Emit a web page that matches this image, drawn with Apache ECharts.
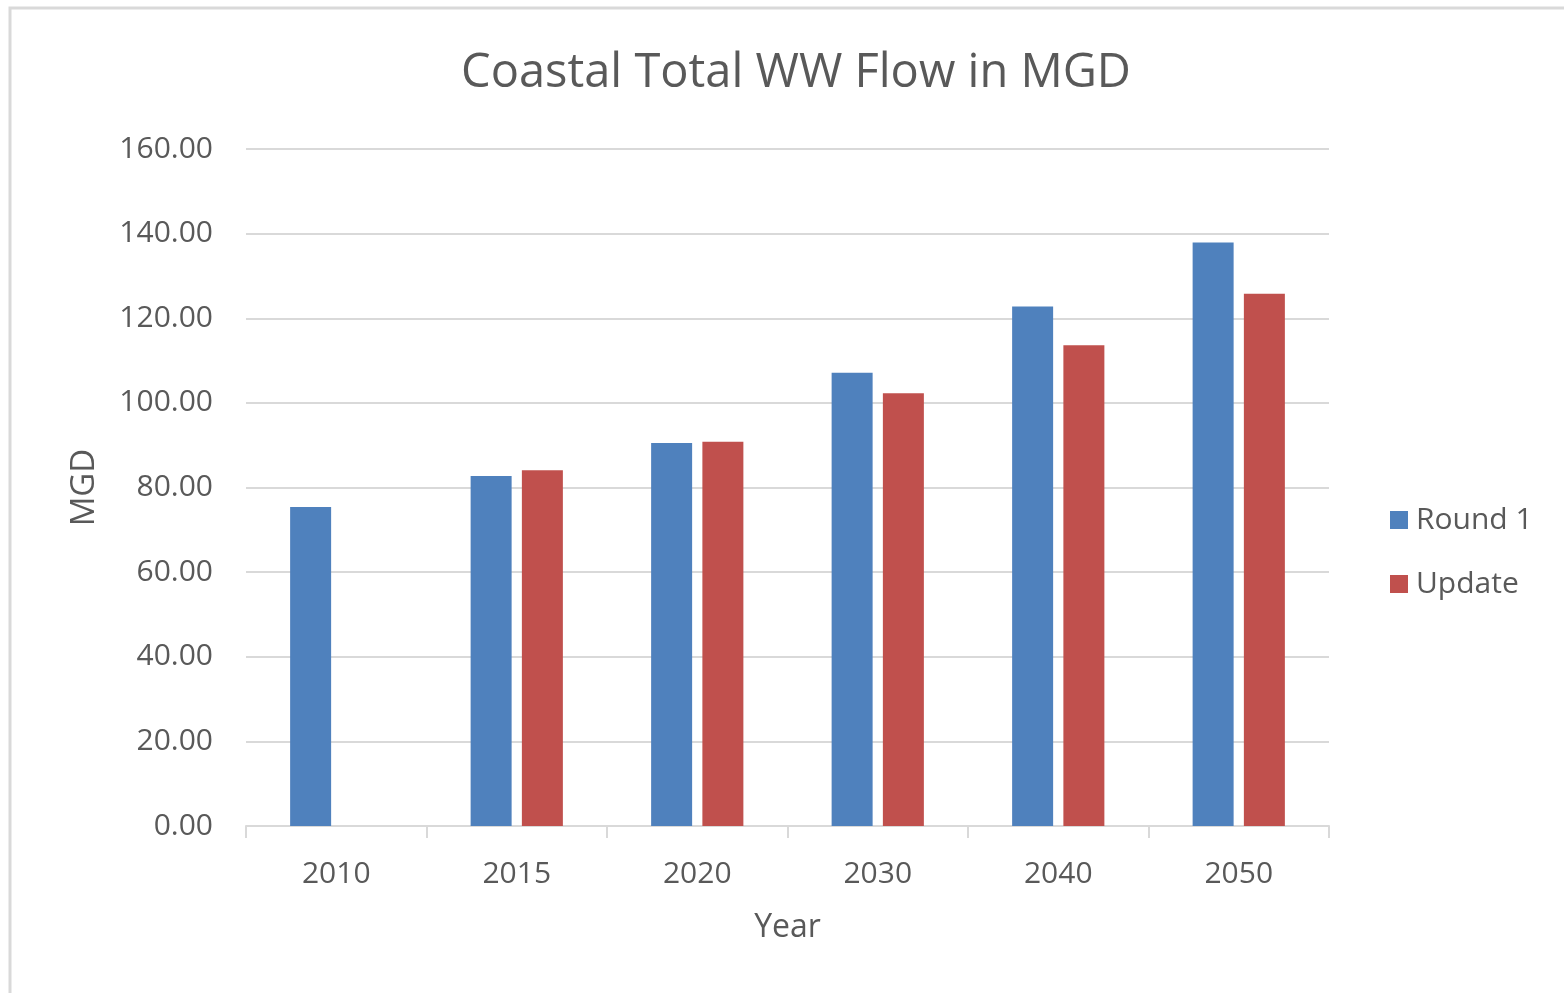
<!DOCTYPE html>
<html>
<head>
<meta charset="utf-8">
<script src="https://cdn.jsdelivr.net/npm/echarts@6/dist/echarts.min.js"></script>
<style>
  html, body { margin: 0; padding: 0; background: #fff; }
  #chart { width: 1564px; height: 993px; }
</style>
</head>
<body>
<div id="chart"></div>
<script>
// 数据
const years = ['2010', '2015', '2020', '2030', '2040', '2050'];
const round1 = [75.4, 82.7, 90.5, 107.1, 122.8, 137.9];
const update = [null, 84.1, 90.8, 102.3, 113.6, 125.8];
const yTicks = [0, 20, 40, 60, 80, 100, 120, 140, 160];

const fontFamily = '"Open Sans", "Liberation Sans", sans-serif';
const textColor = '#595959';

const myChart = echarts.init(document.getElementById('chart'));

const option = {
	animation: false,
	textStyle: { fontFamily },
	title: {
		text: 'Coastal Total WW Flow in MGD',
		left: 791,
		top: 45,
		textAlign: 'center',
		textStyle: {
			fontSize: 47,
			fontWeight: 'normal',
			color: textColor,
			fontFamily,
		},
	},
	// 外框
	graphic: [{
		type: 'rect',
		shape: { x: 10, y: 8, width: 1600, height: 1100 },
		style: { fill: 'none', stroke: '#d9d9d9', lineWidth: 3 },
		silent: true,
	}],
	legend: {
		orient: 'vertical',
		left: 1385,
		top: 500,
		itemWidth: 18,
		itemHeight: 18,
		itemGap: 34,
		icon: 'rect',
		textStyle: { fontSize: 30, color: textColor, fontFamily, padding: [0, 0, 0, 3] },
		data: ['Round 1', 'Update'],
	},
	grid: {
		left: 246,
		right: 235,
		top: 149,
		bottom: 167,
	},
	xAxis: {
		type: 'category',
		data: years,
		name: 'Year',
		nameLocation: 'middle',
		nameGap: 86,
		nameTextStyle: { fontSize: 32, color: textColor },
		axisLine: { lineStyle: { color: '#d9d9d9', width: 2 } },
		axisTick: { show: true, length: 12, lineStyle: { color: '#d9d9d9', width: 2 } },
		axisLabel: { fontSize: 30, color: textColor, margin: 33 },
	},
	yAxis: {
		type: 'value',
		min: yTicks[0],
		max: yTicks[yTicks.length - 1],
		interval: 20,
		name: 'MGD',
		nameLocation: 'middle',
		nameGap: 145,
		nameRotate: 90,
		nameTextStyle: { fontSize: 33, color: textColor },
		axisLine: { show: false },
		axisTick: { show: false },
		axisLabel: {
			fontSize: 30,
			color: textColor,
			margin: 33,
			formatter: v => v.toFixed(2),
		},
		splitLine: { lineStyle: { color: '#d9d9d9', width: 2 } },
	},
	series: [
		{
			name: 'Round 1',
			type: 'bar',
			data: round1,
			barWidth: 41,
			barGap: '25%',
			itemStyle: { color: '#4f81bd' },
		},
		{
			name: 'Update',
			type: 'bar',
			data: update,
			barWidth: 41,
			itemStyle: { color: '#c0504d' },
		},
	],
};

myChart.setOption(option);
</script>
</body>
</html>
